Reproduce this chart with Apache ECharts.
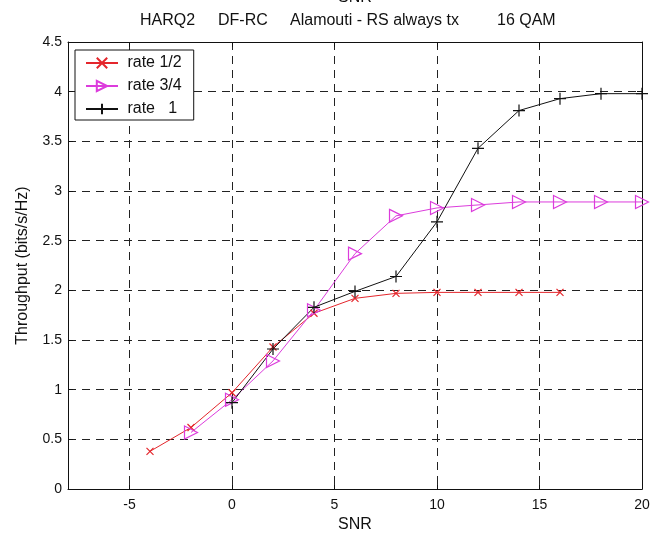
<!DOCTYPE html>
<html><head><meta charset="utf-8">
<script src="https://cdn.jsdelivr.net/npm/echarts@6/dist/echarts.min.js"></script>
<style>html,body{margin:0;padding:0;background:#fff}#c{width:660px;height:538px}</style>
</head><body><div id="c"></div>
<script>
const titleParts = ['HARQ2', 'DF-RC', 'Alamouti - RS always tx', '16 QAM'];
const titleLefts = [140, 218, 290, 497];
const xName = 'SNR';
const yName = 'Throughput (bits/s/Hz)';
const seriesNames = ['rate 1/2', 'rate 3/4', 'rate   1'];
const xTicks = [-5, 0, 5, 10, 15, 20];
const snrHalf = [-4, -2, 0, 2, 4, 6, 8, 10, 12, 14, 16];
const rateHalf = [0.38, 0.62, 0.97, 1.43, 1.77, 1.92, 1.97, 1.98, 1.98, 1.98, 1.98];
const snrThreeQ = [-2, 0, 2, 4, 6, 8, 10, 12, 14, 16, 18, 20];
const rateThreeQ = [0.57, 0.90, 1.29, 1.80, 2.37, 2.75, 2.83, 2.86, 2.89, 2.89, 2.89, 2.89];
const snrOne = [0, 2, 4, 6, 8, 10, 12, 14, 16, 18, 20];
const rateOne = [0.87, 1.41, 1.83, 1.99, 2.14, 2.69, 3.43, 3.81, 3.93, 3.98, 3.98];

const pair = (xs, ys) => xs.map((x, i) => [x, ys[i]]);
const FONT = 'Liberation Sans, Arial, sans-serif';
const RED = '#e4262c', MAG = '#dc3cdc', BLK = '#111';
const splitStyle = {show: true, lineStyle: {color: '#222', type: [8, 6], width: 1}};

const graphics = titleParts.map((t, i) => ({
  type: 'text', x: titleLefts[i], y: 13,
  style: {text: t, fontSize: 16, fill: '#111', fontFamily: FONT, align: 'left', verticalAlign: 'top'}
}));
graphics.push({type: 'text', x: 355, y: 6, style: {text: xName, fontSize: 16, fill: '#111', fontFamily: FONT, align: 'center', verticalAlign: 'bottom'}});

const chart = echarts.init(document.getElementById('c'), null, {renderer: 'canvas'});
chart.setOption({
  animation: false,
  backgroundColor: '#fff',
  textStyle: {fontFamily: FONT},
  graphic: graphics,
  legend: {
    orient: 'vertical', left: 75, top: 50, padding: [5, 12, 3, 10], itemGap: 7,
    itemWidth: 32, itemHeight: 13,
    borderColor: '#111', borderWidth: 1, backgroundColor: '#fff',
    formatter: ' {name}',
    textStyle: {fontSize: 16, color: '#111', fontFamily: FONT},
    data: seriesNames
  },
  grid: {left: 68, right: 18, top: 42, bottom: 46},
  xAxis: [{
    type: 'value', min: -8, max: 20,
    name: xName, nameLocation: 'middle', nameGap: 27,
    nameTextStyle: {fontSize: 16, color: '#111', fontFamily: FONT},
    axisLine: {show: true, onZero: false, lineStyle: {color: '#111', width: 1}},
    axisTick: {show: true, inside: true, length: 5, customValues: xTicks, lineStyle: {color: '#111'}},
    axisLabel: {fontSize: 14, color: '#111', margin: 9, customValues: xTicks, fontFamily: FONT},
    splitLine: splitStyle
  }, {
    type: 'value', position: 'top', min: -8, max: 20,
    axisLine: {show: true, onZero: false, lineStyle: {color: '#111', width: 1}},
    axisTick: {show: true, inside: true, length: 5, customValues: xTicks, lineStyle: {color: '#111'}},
    axisLabel: {show: false}, splitLine: {show: false}
  }],
  yAxis: [{
    type: 'value', min: 0, max: 4.5, interval: 0.5,
    name: yName, nameLocation: 'middle', nameGap: 37,
    nameTextStyle: {fontSize: 16, color: '#111', fontFamily: FONT},
    axisLine: {show: true, onZero: false, lineStyle: {color: '#111', width: 1}},
    axisTick: {show: true, inside: true, length: 5, lineStyle: {color: '#111'}},
    axisLabel: {fontSize: 14, color: '#111', margin: 6, fontFamily: FONT},
    splitLine: splitStyle
  }, {
    type: 'value', position: 'right', min: 0, max: 4.5, interval: 0.5,
    axisLine: {show: true, onZero: false, lineStyle: {color: '#111', width: 1}},
    axisTick: {show: true, inside: true, length: 5, lineStyle: {color: '#111'}},
    axisLabel: {show: false}, splitLine: {show: false}
  }],
  series: [{
    name: seriesNames[0], type: 'line', data: pair(snrHalf, rateHalf),
    symbol: 'path://M0,0L10,10M10,0L0,10', symbolSize: 7, showAllSymbol: true,
    lineStyle: {color: RED, width: 1},
    itemStyle: {color: 'none', borderColor: RED, borderWidth: 1.2}
  }, {
    name: seriesNames[1], type: 'line', data: pair(snrThreeQ, rateThreeQ),
    symbol: 'path://M0,0L10,5L0,10Z', symbolSize: 13, showAllSymbol: true,
    lineStyle: {color: MAG, width: 1},
    itemStyle: {color: 'none', borderColor: MAG, borderWidth: 1.2}
  }, {
    name: seriesNames[2], type: 'line', data: pair(snrOne, rateOne),
    symbol: 'path://M5,0L5,10M0,5L10,5', symbolSize: 12, showAllSymbol: true,
    lineStyle: {color: BLK, width: 1},
    itemStyle: {color: 'none', borderColor: BLK, borderWidth: 1.2}
  }]
});
</script></body></html>
